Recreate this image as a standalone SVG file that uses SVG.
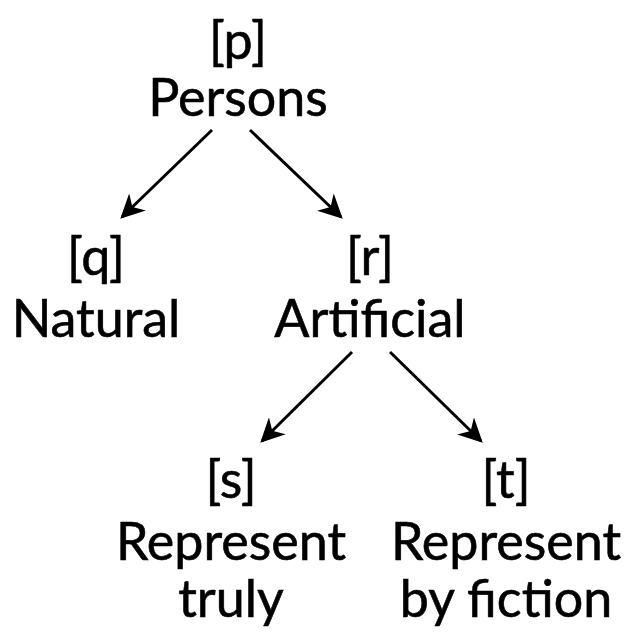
<svg xmlns="http://www.w3.org/2000/svg" width="626" height="636" viewBox="0 0 626 636">
  <style>
    .lbl { font-family: Lato, "Open Sans", "Liberation Sans", sans-serif; font-size: 52px; fill: #000; stroke: #000; stroke-width: 0.6; text-anchor: middle; }
    .edge { stroke: #000; stroke-width: 3; fill: none; marker-end: url(#head); }
  </style>
  <defs>
    <marker id="head" markerWidth="8" markerHeight="8" viewBox="0 0 10 10" refX="9" refY="5" orient="auto" markerUnits="strokeWidth">
      <path d="M0,0 L10,5 L0,10 L3,5 Z" fill="#000"/>
    </marker>
  </defs>
  <rect width="626" height="636" fill="#fff"/>

  <g id="connectors">
    <line class="edge" x1="212" y1="130" x2="122" y2="217"/>
    <line class="edge" x1="250" y1="130" x2="341" y2="217"/>
    <line class="edge" x1="352" y1="352" x2="262" y2="441"/>
    <line class="edge" x1="390" y1="352" x2="481" y2="441"/>
  </g>

  <g id="p">
    <text class="lbl" x="238" y="59">[p]</text>
    <text class="lbl" x="238" y="116">Persons</text>
  </g>
  <g id="q">
    <text class="lbl" x="96" y="275">[q]</text>
    <text class="lbl" x="96" y="337">Natural</text>
  </g>
  <g id="r">
    <text class="lbl" x="370" y="275">[r]</text>
    <text class="lbl" x="370" y="337">Artificial</text>
  </g>
  <g id="s">
    <text class="lbl" x="231" y="498">[s]</text>
    <text class="lbl" x="231" y="560">Represent</text>
    <text class="lbl" x="231" y="617">truly</text>
  </g>
  <g id="t">
    <text class="lbl" x="506" y="498">[t]</text>
    <text class="lbl" x="506" y="560">Represent</text>
    <text class="lbl" x="506" y="617">by fiction</text>
  </g>
</svg>
